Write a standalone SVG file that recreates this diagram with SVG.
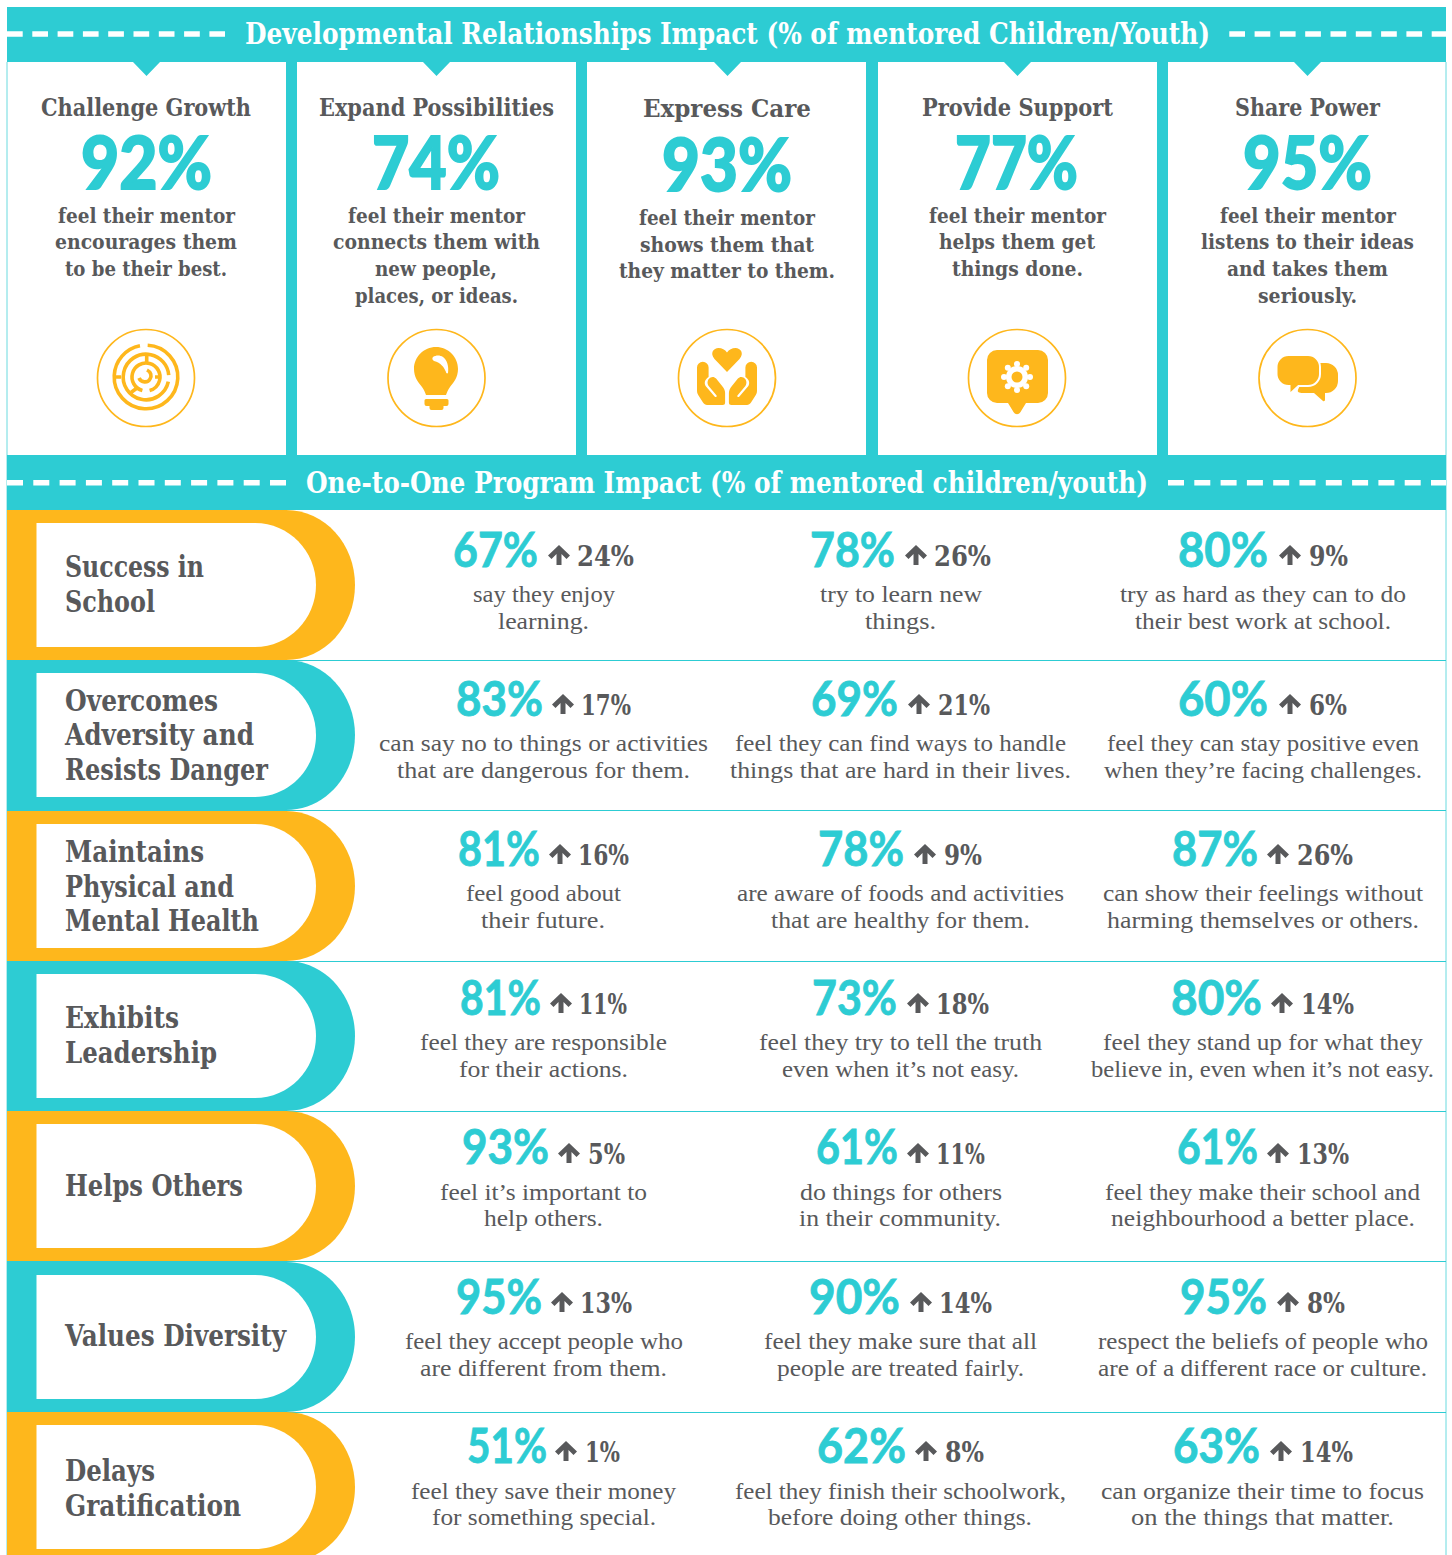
<svg xmlns="http://www.w3.org/2000/svg" width="1452" height="1555" viewBox="0 0 1452 1555">
<style>
text{fill:#58595b;font-family:"DejaVu Serif",serif}
.hd{fill:#fff;font-size:30px;font-weight:700;font-stretch:condensed}
.ti{font-size:24px;font-weight:700;font-stretch:condensed}
.bg{fill:#2dccd3;stroke:#2dccd3;stroke-width:1.800px;font-family:Lato,"Open Sans",sans-serif;font-size:72px;font-weight:900}
.bd{font-size:21px;font-weight:700;font-stretch:condensed}
.lb{font-size:29px;font-weight:700;font-stretch:condensed}
.pc{fill:#2dccd3;stroke:#2dccd3;stroke-width:.8px;font-family:Lato,"Open Sans",sans-serif;font-size:47px;font-weight:700}
.up{font-size:27px;font-weight:700;font-stretch:condensed}
.de{font-size:24px;font-family:"Liberation Serif",serif}
.t{fill:#2dccd3}.y{fill:#feb71c}.w{fill:#fff}
.ci{fill:none;stroke:#feb71c;stroke-width:1.700}
.mz{fill:none;stroke:#feb71c;stroke-width:3.600}
.ds{fill:none;stroke:#fff;stroke-width:5.500}
.d1{stroke-dasharray:15.700 9.600}
.d2{stroke-dasharray:16 10.300}
.rl{stroke:#2dccd3;stroke-width:1}
</style>
<defs>
<path id="up" d="M11 0L22 10.500 18.500 14 13.500 9V20H8.500V9L3.500 14 0 10.500Z" fill="#58595b"/>
<path id="pl-o" d="M0 0H279C318 0 348 34 348 75S318 150 279 150H0Z"/>
<path id="pl-i" d="M29.500 13H248C282 13 309 41 309 75S282 137 248 137H29.500Z" fill="#fff"/>
</defs>
<rect width="1452" height="1555" fill="#fff"/>
<g id="frame">
<rect class="t" x="7" y="7" width="1439" height="55"/>
<rect class="t" x="7" y="455" width="1439" height="55"/>
<rect class="t" x="286" y="62" width="11" height="393"/>
<rect class="t" x="576" y="62" width="11" height="393"/>
<rect class="t" x="866" y="62" width="12" height="393"/>
<rect class="t" x="1157" y="62" width="11" height="393"/>
<path d="M7 62V1555M1446 62V1555" stroke="#2dccd3" stroke-width="1" opacity=".7"/>
<path class="t" d="M133 62h27l-13.500 14zM423 62h27l-13.500 14zM714 62h27l-13.500 14zM1004 62h27l-13.500 14zM1294 62h27l-13.500 14z"/>
<path class="rl" d="M7 660.500H1446M7 810.500H1446M7 961.500H1446M7 1111.500H1446M7 1261.500H1446M7 1412.500H1446"/>
</g>
<g id="header-1">
<path class="ds d1" d="M7 34H225"/><path class="ds d1" d="M1229.300 34H1446"/>
<text class="hd" x="245" y="44" textLength="965" lengthAdjust="spacingAndGlyphs">Developmental Relationships Impact (% of mentored Children/Youth)</text>
</g>
<g id="card-challenge">
<text class="ti" x="41" y="116" textLength="210" lengthAdjust="spacingAndGlyphs">Challenge Growth</text>
<text class="bg" x="81" y="189" textLength="131" lengthAdjust="spacingAndGlyphs">92%</text>
<text class="bd" x="58" y="223" textLength="177" lengthAdjust="spacingAndGlyphs">feel their mentor</text>
<text class="bd" x="55" y="249" textLength="182" lengthAdjust="spacingAndGlyphs">encourages them</text>
<text class="bd" x="65" y="276" textLength="162" lengthAdjust="spacingAndGlyphs">to be their best.</text>
<circle class="ci" cx="146" cy="378" r="48.500"/>
<g class="mz">
<circle cx="146" cy="377" r="31.800" pathLength="360" stroke-dasharray="346 14" transform="rotate(-87 146 377)"/>
<circle cx="146" cy="377" r="22.800" pathLength="360" stroke-dasharray="343 17" transform="rotate(12 146 377)"/>
<circle cx="146" cy="377" r="14" pathLength="360" stroke-dasharray="330 30" transform="rotate(105 146 377)"/>
<path d="M139 378c2 5 9 5 11 1 2-3 1-7-3-9"/>
<path d="M146.700 355V362M114 377H121M155 377H161M131 392.500L137 388"/>
</g>
</g>
<g id="card-expand">
<text class="ti" x="319" y="116" textLength="235" lengthAdjust="spacingAndGlyphs">Expand Possibilities</text>
<text class="bg" x="372" y="189" textLength="128" lengthAdjust="spacingAndGlyphs">74%</text>
<text class="bd" x="348" y="223" textLength="177" lengthAdjust="spacingAndGlyphs">feel their mentor</text>
<text class="bd" x="333" y="249" textLength="207" lengthAdjust="spacingAndGlyphs">connects them with</text>
<text class="bd" x="375" y="276" textLength="122" lengthAdjust="spacingAndGlyphs">new people,</text>
<text class="bd" x="355" y="303" textLength="163" lengthAdjust="spacingAndGlyphs">places, or ideas.</text>
<circle class="ci" cx="436.500" cy="378" r="48.500"/>
<path class="y" d="M436 347c12.200 0 22 10 22 22 0 8-4 13-8 18-2 3-3 5-4 8h-20c-1-3-2-5-4-8-4-5-8-10-8-18 0-12 9.800-22 22-22z"/>
<path class="y" d="M426 399h21a1.500 1.500 0 0 1 1.500 1.500V404a2 2 0 0 1-2 2h-3v2a2 2 0 0 1-2 2h-10a2 2 0 0 1-2-2v-2h-3a2 2 0 0 1-2-2v-3.500a1.500 1.500 0 0 1 1.500-1.500z"/>
<path class="w" d="M433 357c3-2 7-2 10 0 4 3 6 9 5 16-1 1-2 0-2-1-2-5-5-9-12-11-2-1-2-3-1-4z"/>
</g>
<g id="card-care">
<text class="ti" x="643" y="117" textLength="168" lengthAdjust="spacingAndGlyphs">Express Care</text>
<text class="bg" x="662" y="191" textLength="130" lengthAdjust="spacingAndGlyphs">93%</text>
<text class="bd" x="639" y="225" textLength="176" lengthAdjust="spacingAndGlyphs">feel their mentor</text>
<text class="bd" x="640" y="252" textLength="174" lengthAdjust="spacingAndGlyphs">shows them that</text>
<text class="bd" x="619" y="278" textLength="216" lengthAdjust="spacingAndGlyphs">they matter to them.</text>
<circle class="ci" cx="727" cy="378" r="48.500"/>
<path class="y" d="M727 372l-12.500-13c-5-6-1-11 4-11 3.500 0 6.500 1.500 8.500 4.500 2-3 5-4.500 8.500-4.500 5 0 9 5 4 11z"/>
<g id="hand"><path class="y" d="M697 367.500a5.800 5.800 0 0 1 11.600 0V377c-3 2-5 5-3 9l9 10.500c1 1 2.500 .5 2 -1l-8-9.500c-2-3-1-7 2-8.500 2-1 4-.5 5.500 1l6 7.500c2 2.500 3 4.500 3 7v9.500a2.500 2.500 0 0 1-2.500 2.500H707c-1.500 0-3-1-4-2.500l-4.500-7c-1-1.500-1.500-3-1.500-5z"/></g>
<use href="#hand" transform="translate(1454 0) scale(-1 1)"/>
</g>
<g id="card-support">
<text class="ti" x="922" y="116" textLength="191" lengthAdjust="spacingAndGlyphs">Provide Support</text>
<text class="bg" x="955" y="189" textLength="123" lengthAdjust="spacingAndGlyphs">77%</text>
<text class="bd" x="929" y="223" textLength="177" lengthAdjust="spacingAndGlyphs">feel their mentor</text>
<text class="bd" x="939" y="249" textLength="156" lengthAdjust="spacingAndGlyphs">helps them get</text>
<text class="bd" x="952" y="276" textLength="131" lengthAdjust="spacingAndGlyphs">things done.</text>
<circle class="ci" cx="1017" cy="378" r="48.500"/>
<path class="y" d="M997 350h41a10 10 0 0 1 10 10v33a10 10 0 0 1-10 10h-12l-5.500 9c-2 3-5 3-7 0l-5.500-9h-11a10 10 0 0 1-10-10v-33a10 10 0 0 1 10-10z"/>
<g class="w"><circle cx="1017" cy="377" r="11"/>
<circle cx="1017" cy="364" r="3"/><circle cx="1017" cy="390" r="3"/><circle cx="1004" cy="377" r="3"/><circle cx="1030" cy="377" r="3"/>
<circle cx="1007.800" cy="367.800" r="3"/><circle cx="1026.200" cy="367.800" r="3"/><circle cx="1007.800" cy="386.200" r="3"/><circle cx="1026.200" cy="386.200" r="3"/></g>
<circle class="y" cx="1017" cy="377" r="5.500"/>
</g>
<g id="card-power">
<text class="ti" x="1235" y="116" textLength="145" lengthAdjust="spacingAndGlyphs">Share Power</text>
<text class="bg" x="1243" y="189" textLength="129" lengthAdjust="spacingAndGlyphs">95%</text>
<text class="bd" x="1220" y="223" textLength="176" lengthAdjust="spacingAndGlyphs">feel their mentor</text>
<text class="bd" x="1201" y="249" textLength="213" lengthAdjust="spacingAndGlyphs">listens to their ideas</text>
<text class="bd" x="1227" y="276" textLength="161" lengthAdjust="spacingAndGlyphs">and takes them</text>
<text class="bd" x="1258" y="303" textLength="99" lengthAdjust="spacingAndGlyphs">seriously.</text>
<circle class="ci" cx="1307.500" cy="378" r="48.500"/>
<path class="y" d="M1312 363h14a12 12 0 0 1 12 12v6a12 12 0 0 1-12 12h-1v7c0 1-1 1.500-2 1l-9-8h-11c-4 0-6-1-5-3 1-3 14-27 14-27z"/>
<path class="y" d="M1289 355h19a12 12 0 0 1 12 12v7a12 12 0 0 1-12 12h-9.500l-7.500 7c-1 .5-1.500 0-1.500-1v-6h-1a12 12 0 0 1-12-12v-7a12 12 0 0 1 12-12z" style="stroke:#fff;stroke-width:2"/>
</g>
<g id="header-2">
<path class="ds d2" d="M7 482.700H286"/><path class="ds d2" d="M1168 482.700H1446"/>
<text class="hd" x="306" y="493" textLength="842" lengthAdjust="spacingAndGlyphs">One-to-One Program Impact (% of mentored children/youth)</text>
</g>
<g id="row-school">
<use href="#pl-o" x="7" y="510" class="y"/><use href="#pl-i" x="7" y="510"/>
<text class="lb" x="65" y="577" textLength="139" lengthAdjust="spacingAndGlyphs">Success in</text>
<text class="lb" x="65" y="612" textLength="90" lengthAdjust="spacingAndGlyphs">School</text>
<text class="pc" x="453" y="567" textLength="85" lengthAdjust="spacingAndGlyphs">67%</text><use href="#up" x="548" y="545"/><text class="up" x="577" y="566" textLength="57" lengthAdjust="spacingAndGlyphs">24%</text>
<text class="de" x="473" y="602" textLength="142" lengthAdjust="spacingAndGlyphs">say they enjoy</text>
<text class="de" x="498" y="629" textLength="91" lengthAdjust="spacingAndGlyphs">learning.</text>
<text class="pc" x="810" y="567" textLength="85" lengthAdjust="spacingAndGlyphs">78%</text><use href="#up" x="905" y="545"/><text class="up" x="934" y="566" textLength="57" lengthAdjust="spacingAndGlyphs">26%</text>
<text class="de" x="820" y="602" textLength="162" lengthAdjust="spacingAndGlyphs">try to learn new</text>
<text class="de" x="865" y="629" textLength="71" lengthAdjust="spacingAndGlyphs">things.</text>
<text class="pc" x="1178" y="567" textLength="90" lengthAdjust="spacingAndGlyphs">80%</text><use href="#up" x="1279" y="545"/><text class="up" x="1309" y="566" textLength="39" lengthAdjust="spacingAndGlyphs">9%</text>
<text class="de" x="1120" y="602" textLength="286" lengthAdjust="spacingAndGlyphs">try as hard as they can to do</text>
<text class="de" x="1135" y="629" textLength="256" lengthAdjust="spacingAndGlyphs">their best work at school.</text>
</g>
<g id="row-adversity">
<use href="#pl-o" x="7" y="660" class="t"/><use href="#pl-i" x="7" y="660"/>
<text class="lb" x="65" y="711" textLength="153" lengthAdjust="spacingAndGlyphs">Overcomes</text>
<text class="lb" x="65" y="745" textLength="189" lengthAdjust="spacingAndGlyphs">Adversity and</text>
<text class="lb" x="65" y="780" textLength="203" lengthAdjust="spacingAndGlyphs">Resists Danger</text>
<text class="pc" x="456" y="716" textLength="87" lengthAdjust="spacingAndGlyphs">83%</text><use href="#up" x="552" y="694"/><text class="up" x="581" y="715" textLength="50" lengthAdjust="spacingAndGlyphs">17%</text>
<text class="de" x="379" y="751" textLength="329" lengthAdjust="spacingAndGlyphs">can say no to things or activities</text>
<text class="de" x="397" y="778" textLength="293" lengthAdjust="spacingAndGlyphs">that are dangerous for them.</text>
<text class="pc" x="811" y="716" textLength="87" lengthAdjust="spacingAndGlyphs">69%</text><use href="#up" x="908" y="694"/><text class="up" x="938" y="715" textLength="52" lengthAdjust="spacingAndGlyphs">21%</text>
<text class="de" x="735" y="751" textLength="331" lengthAdjust="spacingAndGlyphs">feel they can find ways to handle</text>
<text class="de" x="730" y="778" textLength="341" lengthAdjust="spacingAndGlyphs">things that are hard in their lives.</text>
<text class="pc" x="1178" y="716" textLength="90" lengthAdjust="spacingAndGlyphs">60%</text><use href="#up" x="1279" y="694"/><text class="up" x="1309" y="715" textLength="38" lengthAdjust="spacingAndGlyphs">6%</text>
<text class="de" x="1107" y="751" textLength="312" lengthAdjust="spacingAndGlyphs">feel they can stay positive even</text>
<text class="de" x="1104" y="778" textLength="318" lengthAdjust="spacingAndGlyphs">when they’re facing challenges.</text>
</g>
<g id="row-health">
<use href="#pl-o" x="7" y="811" class="y"/><use href="#pl-i" x="7" y="811"/>
<text class="lb" x="65" y="862" textLength="139" lengthAdjust="spacingAndGlyphs">Maintains</text>
<text class="lb" x="65" y="897" textLength="169" lengthAdjust="spacingAndGlyphs">Physical and</text>
<text class="lb" x="65" y="931" textLength="194" lengthAdjust="spacingAndGlyphs">Mental Health</text>
<text class="pc" x="458" y="866" textLength="82" lengthAdjust="spacingAndGlyphs">81%</text><use href="#up" x="549" y="844"/><text class="up" x="578" y="865" textLength="51" lengthAdjust="spacingAndGlyphs">16%</text>
<text class="de" x="466" y="901" textLength="155" lengthAdjust="spacingAndGlyphs">feel good about</text>
<text class="de" x="481" y="928" textLength="124" lengthAdjust="spacingAndGlyphs">their future.</text>
<text class="pc" x="818" y="866" textLength="86" lengthAdjust="spacingAndGlyphs">78%</text><use href="#up" x="914" y="844"/><text class="up" x="944" y="865" textLength="38" lengthAdjust="spacingAndGlyphs">9%</text>
<text class="de" x="737" y="901" textLength="327" lengthAdjust="spacingAndGlyphs">are aware of foods and activities</text>
<text class="de" x="771" y="928" textLength="259" lengthAdjust="spacingAndGlyphs">that are healthy for them.</text>
<text class="pc" x="1172" y="866" textLength="86" lengthAdjust="spacingAndGlyphs">87%</text><use href="#up" x="1267" y="844"/><text class="up" x="1297" y="865" textLength="56" lengthAdjust="spacingAndGlyphs">26%</text>
<text class="de" x="1103" y="901" textLength="320" lengthAdjust="spacingAndGlyphs">can show their feelings without</text>
<text class="de" x="1107" y="928" textLength="312" lengthAdjust="spacingAndGlyphs">harming themselves or others.</text>
</g>
<g id="row-leadership">
<use href="#pl-o" x="7" y="961" class="t"/><use href="#pl-i" x="7" y="961"/>
<text class="lb" x="65" y="1028" textLength="114" lengthAdjust="spacingAndGlyphs">Exhibits</text>
<text class="lb" x="65" y="1063" textLength="152" lengthAdjust="spacingAndGlyphs">Leadership</text>
<text class="pc" x="460" y="1015" textLength="81" lengthAdjust="spacingAndGlyphs">81%</text><use href="#up" x="550" y="993"/><text class="up" x="579" y="1014" textLength="48" lengthAdjust="spacingAndGlyphs">11%</text>
<text class="de" x="420" y="1050" textLength="247" lengthAdjust="spacingAndGlyphs">feel they are responsible</text>
<text class="de" x="459" y="1077" textLength="169" lengthAdjust="spacingAndGlyphs">for their actions.</text>
<text class="pc" x="812" y="1015" textLength="85" lengthAdjust="spacingAndGlyphs">73%</text><use href="#up" x="907" y="993"/><text class="up" x="936" y="1014" textLength="53" lengthAdjust="spacingAndGlyphs">18%</text>
<text class="de" x="759" y="1050" textLength="283" lengthAdjust="spacingAndGlyphs">feel they try to tell the truth</text>
<text class="de" x="782" y="1077" textLength="237" lengthAdjust="spacingAndGlyphs">even when it’s not easy.</text>
<text class="pc" x="1171" y="1015" textLength="91" lengthAdjust="spacingAndGlyphs">80%</text><use href="#up" x="1271" y="993"/><text class="up" x="1301" y="1014" textLength="53" lengthAdjust="spacingAndGlyphs">14%</text>
<text class="de" x="1103" y="1050" textLength="320" lengthAdjust="spacingAndGlyphs">feel they stand up for what they</text>
<text class="de" x="1091" y="1077" textLength="343" lengthAdjust="spacingAndGlyphs">believe in, even when it’s not easy.</text>
</g>
<g id="row-helps">
<use href="#pl-o" x="7" y="1111" class="y"/><use href="#pl-i" x="7" y="1111"/>
<text class="lb" x="65" y="1196" textLength="178" lengthAdjust="spacingAndGlyphs">Helps Others</text>
<text class="pc" x="462" y="1164" textLength="87" lengthAdjust="spacingAndGlyphs">93%</text><use href="#up" x="558" y="1143"/><text class="up" x="588" y="1164" textLength="37" lengthAdjust="spacingAndGlyphs">5%</text>
<text class="de" x="440" y="1200" textLength="207" lengthAdjust="spacingAndGlyphs">feel it’s important to</text>
<text class="de" x="484" y="1226" textLength="119" lengthAdjust="spacingAndGlyphs">help others.</text>
<text class="pc" x="816" y="1164" textLength="82" lengthAdjust="spacingAndGlyphs">61%</text><use href="#up" x="907" y="1143"/><text class="up" x="936" y="1164" textLength="49" lengthAdjust="spacingAndGlyphs">11%</text>
<text class="de" x="800" y="1200" textLength="202" lengthAdjust="spacingAndGlyphs">do things for others</text>
<text class="de" x="799" y="1226" textLength="202" lengthAdjust="spacingAndGlyphs">in their community.</text>
<text class="pc" x="1177" y="1164" textLength="81" lengthAdjust="spacingAndGlyphs">61%</text><use href="#up" x="1267" y="1143"/><text class="up" x="1297" y="1164" textLength="52" lengthAdjust="spacingAndGlyphs">13%</text>
<text class="de" x="1105" y="1200" textLength="315" lengthAdjust="spacingAndGlyphs">feel they make their school and</text>
<text class="de" x="1111" y="1226" textLength="304" lengthAdjust="spacingAndGlyphs">neighbourhood a better place.</text>
</g>
<g id="row-diversity">
<use href="#pl-o" x="7" y="1262" class="t"/><use href="#pl-i" x="7" y="1262"/>
<text class="lb" x="65" y="1346" textLength="221" lengthAdjust="spacingAndGlyphs">Values Diversity</text>
<text class="pc" x="456" y="1314" textLength="86" lengthAdjust="spacingAndGlyphs">95%</text><use href="#up" x="551" y="1292"/><text class="up" x="580" y="1313" textLength="52" lengthAdjust="spacingAndGlyphs">13%</text>
<text class="de" x="405" y="1349" textLength="278" lengthAdjust="spacingAndGlyphs">feel they accept people who</text>
<text class="de" x="420" y="1376" textLength="247" lengthAdjust="spacingAndGlyphs">are different from them.</text>
<text class="pc" x="809" y="1314" textLength="91" lengthAdjust="spacingAndGlyphs">90%</text><use href="#up" x="910" y="1292"/><text class="up" x="939" y="1313" textLength="53" lengthAdjust="spacingAndGlyphs">14%</text>
<text class="de" x="764" y="1349" textLength="273" lengthAdjust="spacingAndGlyphs">feel they make sure that all</text>
<text class="de" x="777" y="1376" textLength="247" lengthAdjust="spacingAndGlyphs">people are treated fairly.</text>
<text class="pc" x="1180" y="1314" textLength="87" lengthAdjust="spacingAndGlyphs">95%</text><use href="#up" x="1277" y="1292"/><text class="up" x="1307" y="1313" textLength="38" lengthAdjust="spacingAndGlyphs">8%</text>
<text class="de" x="1098" y="1349" textLength="330" lengthAdjust="spacingAndGlyphs">respect the beliefs of people who</text>
<text class="de" x="1098" y="1376" textLength="329" lengthAdjust="spacingAndGlyphs">are of a different race or culture.</text>
</g>
<g id="row-gratification">
<use href="#pl-o" x="7" y="1412" class="y"/><use href="#pl-i" x="7" y="1412"/>
<text class="lb" x="65" y="1481" textLength="90" lengthAdjust="spacingAndGlyphs">Delays</text>
<text class="lb" x="65" y="1516" textLength="176" lengthAdjust="spacingAndGlyphs">Gratification</text>
<text class="pc" x="467" y="1463" textLength="80" lengthAdjust="spacingAndGlyphs">51%</text><use href="#up" x="555" y="1441"/><text class="up" x="585" y="1462" textLength="35" lengthAdjust="spacingAndGlyphs">1%</text>
<text class="de" x="411" y="1499" textLength="265" lengthAdjust="spacingAndGlyphs">feel they save their money</text>
<text class="de" x="432" y="1525" textLength="224" lengthAdjust="spacingAndGlyphs">for something special.</text>
<text class="pc" x="817" y="1463" textLength="89" lengthAdjust="spacingAndGlyphs">62%</text><use href="#up" x="915" y="1441"/><text class="up" x="945" y="1462" textLength="39" lengthAdjust="spacingAndGlyphs">8%</text>
<text class="de" x="735" y="1499" textLength="331" lengthAdjust="spacingAndGlyphs">feel they finish their schoolwork,</text>
<text class="de" x="768" y="1525" textLength="264" lengthAdjust="spacingAndGlyphs">before doing other things.</text>
<text class="pc" x="1173" y="1463" textLength="87" lengthAdjust="spacingAndGlyphs">63%</text><use href="#up" x="1270" y="1441"/><text class="up" x="1300" y="1462" textLength="53" lengthAdjust="spacingAndGlyphs">14%</text>
<text class="de" x="1101" y="1499" textLength="323" lengthAdjust="spacingAndGlyphs">can organize their time to focus</text>
<text class="de" x="1131" y="1525" textLength="263" lengthAdjust="spacingAndGlyphs">on the things that matter.</text>
</g>
</svg>
